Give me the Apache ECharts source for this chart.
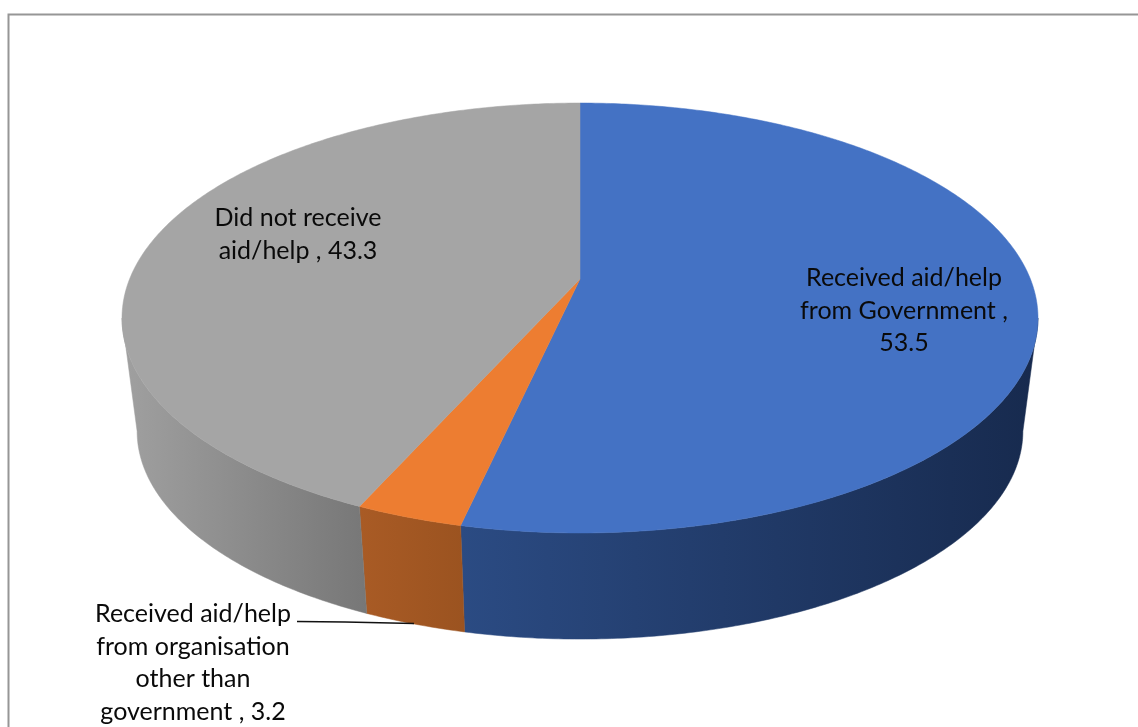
<!DOCTYPE html>
<html>
<head>
<meta charset="utf-8">
<style>html,body{margin:0;padding:0;background:#fff}#c{width:1138px;height:727px}</style>
<script src="https://cdn.jsdelivr.net/npm/echarts@6/dist/echarts.min.js"></script>
</head>
<body>
<div id="c"></div>
<script>
const categories = ['Received aid/help from Government', 'Received aid/help from organisation other than government', 'Did not receive aid/help'];
const values = [53.5, 3.2, 43.3];
const topColors = ['#4472C4', '#ED7D31', '#A5A5A5'];
const sideStart = ['#2B4B83', '#A95B25', '#A0A0A0'];
const sideEnd = ['#172A4E', '#9B5320', '#777777'];
const labelLines = [
  ['Received aid/help', 'from Government ,', '53.5'],
  ['Received aid/help', 'from organisation', 'other than', 'government , 3.2'],
  ['Did not receive', 'aid/help , 43.3']
];

const view = {cx: 580, cy: 279, R: 450.4, q: 207.9, p: 0.1814, depthScale: 0.967, cyLow: 393.5};
const labelPos = [[904, 278, 32.5], [193, 614, 32.7], [298, 218, 32.5]];
const total = values.reduce((a, b) => a + b, 0);
const TWO_PI = Math.PI * 2;
const frontFrom = Math.acos(-view.p);
const frontTo = TWO_PI - frontFrom;

function project(theta, low) {
  const u = Math.sin(theta), v = Math.cos(theta), w = 1 + view.p * v;
  const dx = view.R * u / w, dy = -view.q * v / w;
  return low
    ? [view.cx + dx * view.depthScale, view.cyLow + dy * view.depthScale]
    : [view.cx + dx, view.cy + dy];
}
function arc(a, b, low) {
  const n = Math.max(2, Math.ceil((b - a) / 0.01)), pts = [];
  for (let i = 0; i <= n; i++) pts.push(project(a + (b - a) * i / n, low));
  return pts;
}
function range(idx) {
  let s = 0;
  for (let i = 0; i < idx; i++) s += values[i];
  return [s / total * TWO_PI, (s + values[idx]) / total * TWO_PI];
}
const rows = values.map((v, i) => [i, v]);

const option = {
  animation: false,
  backgroundColor: '#fff',
  xAxis: {show: false}, yAxis: {show: false},
  graphic: [
    {type: 'polyline', silent: true, shape: {points: [[8.5, 727], [8.5, 14.5], [1138, 14.5]]},
      style: {stroke: '#969696', lineWidth: 2, fill: null}},
    {type: 'polyline', silent: true, z: 10, shape: {points: [[297, 621.5], [345, 622], [414, 623.5]]},
      style: {stroke: '#111', lineWidth: 1.3, fill: null}}
  ].concat(labelLines.flatMap((lines, i) => lines.map((t, j) => ({
    type: 'text', silent: true, z: 10,
    style: {
      x: labelPos[i][0], y: labelPos[i][1] + j * labelPos[i][2], text: t,
      font: '25px Lato, Carlito, sans-serif', fill: '#0A0A0A', align: 'center', verticalAlign: 'middle'
    }
  })))),
  series: [
    {
      type: 'custom', coordinateSystem: 'none', silent: true, clip: false, z: 1,
      data: rows,
      renderItem(params, api) {
        const i = api.value(0), r = range(i);
        const a = Math.max(r[0], frontFrom), b = Math.min(r[1], frontTo);
        if (b <= a) return {type: 'group', children: []};
        const top = arc(a, b, false), low = arc(a, b, true).reverse();
        const xs = top.concat(low).map(p => p[0]);
        const x0 = Math.min(...xs), x1 = Math.max(...xs);
        const paint = new echarts.graphic.LinearGradient(x0, 0, x1, 0, [
          {offset: 0, color: sideStart[i]}, {offset: 1, color: sideEnd[i]}
        ], true);
        return {
          type: 'polygon', shape: {points: top.concat(low)},
          style: {fill: paint, stroke: paint, lineWidth: 0.5}
        };
      }
    },
    {
      type: 'custom', coordinateSystem: 'none', silent: true, clip: false, z: 2,
      data: rows,
      renderItem(params, api) {
        const i = api.value(0), r = range(i);
        const pts = arc(r[0], r[1], false);
        pts.push([view.cx, view.cy]);
        return {type: 'polygon', shape: {points: pts},
          style: {fill: topColors[i], stroke: topColors[i], lineWidth: 0.5}};
      }
    }
  ]
};
const chart = echarts.init(document.getElementById('c'), null, {renderer: 'canvas'});
chart.setOption(option);
</script>
</body>
</html>
